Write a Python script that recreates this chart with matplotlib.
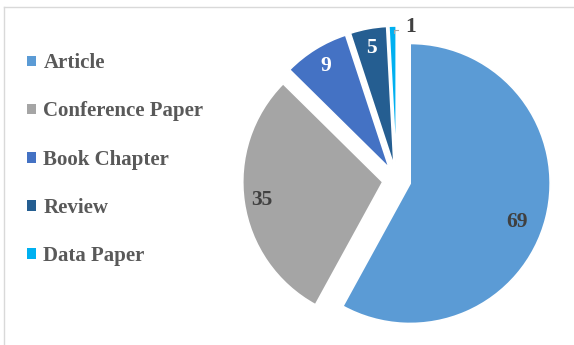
import numpy as np
import matplotlib
matplotlib.use("Agg")
import matplotlib.pyplot as plt
from matplotlib.lines import Line2D

# Document types and counts
categories = ["Article", "Conference Paper", "Book Chapter", "Review", "Data Paper"]
counts = [69, 35, 9, 5, 1]

colors = ["#5B9BD5", "#A5A5A5", "#4472C4", "#255E91", "#00B0F0"]
label_colors = ["#404040", "#404040", "white", "white", "#404040"]

W, H = 574, 345
fig = plt.figure(figsize=(W / 100, H / 100), dpi=100)
ax = fig.add_axes([0, 0, 1, 1])

serif = ["Liberation Serif", "DejaVu Serif"]

R = 140
wedges, _ = ax.pie(
    counts,
    colors=colors,
    startangle=90,
    counterclock=False,
    explode=[0.1 * R] * len(counts),   # offsets are in data units
    radius=R,
    center=(396.6, 165),
    wedgeprops=dict(edgecolor="white", linewidth=1.2),
    frame=True,
)
ax.set_xlim(0, W)
ax.set_ylim(0, H)
ax.set_aspect("equal")
ax.axis("off")

# value labels: radial distance (fraction of radius) and angular nudge per slice
label_r = [0.81, 0.87, 0.86, 0.86, 1.0]
label_nudge = [-5.6, 0, 0, 0, -7.5]
for w, v, c, fr, dn in zip(wedges, counts, label_colors, label_r, label_nudge):
    mid = np.deg2rad((w.theta1 + w.theta2) / 2 + dn)
    cx, cy = w.center
    x = cx + fr * w.r * np.cos(mid)
    y = cy + fr * w.r * np.sin(mid)
    ax.text(x, y, str(v), ha="center", va="center", color=c,
            fontsize=15.5, fontweight="bold", family=serif)

# leader for the smallest slice
w = wedges[-1]
mid = np.deg2rad((w.theta1 + w.theta2) / 2)
cx, cy = w.center
x0 = cx + w.r * np.cos(mid) + 1.0
y0 = cy + w.r * np.sin(mid) - 7
ax.plot([x0, x0, x0 + 4], [y0, y0 + 3, y0 + 3], color="#A6A6A6", lw=0.8)

leg = ax.legend(
    wedges, categories,
    loc="upper left", bbox_to_anchor=(19 / W, 1 - 45 / H),
    frameon=False, prop=dict(family=serif, weight="bold", size=15),
    handlelength=0.42, handleheight=0.42, handletextpad=0.35,
    labelspacing=1.35, borderaxespad=0,
)
for t in leg.get_texts():
    t.set_color("#595959")
for h in leg.legend_handles:
    h.set_edgecolor("none")

# chart-area border (top and left edges visible)
fig.add_artist(Line2D([4 / W, 1], [1 - 7 / H, 1 - 7 / H], color="#D9D9D9", lw=1,
                      transform=fig.transFigure))
fig.add_artist(Line2D([4 / W, 4 / W], [0, 1 - 7 / H], color="#D9D9D9", lw=1,
                      transform=fig.transFigure))

fig.savefig("out.png", dpi=100)
